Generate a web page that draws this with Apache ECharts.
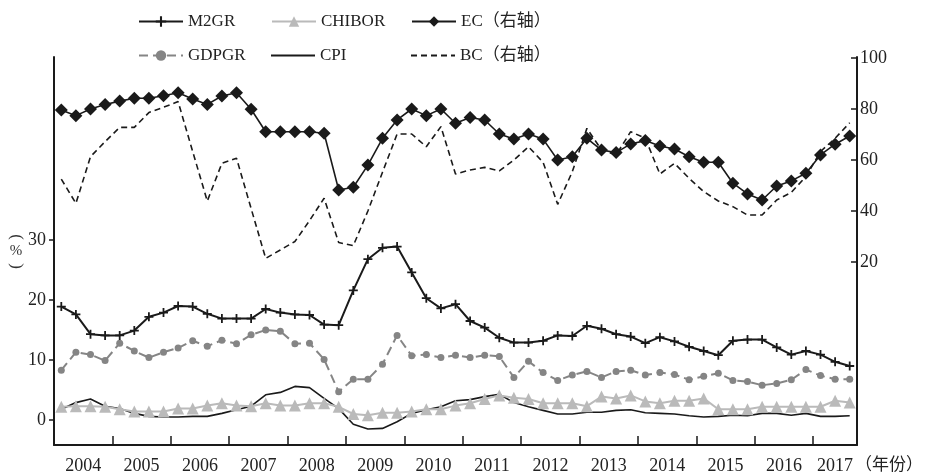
<!DOCTYPE html>
<html>
<head>
<meta charset="utf-8">
<script src="https://cdn.jsdelivr.net/npm/echarts@6/dist/echarts.min.js"></script>
<style>
html, body { margin: 0; padding: 0; background: #fff; }
#main { width: 928px; height: 476px; }
</style>
</head>
<body>
<div id="main"></div>
<script>
// 年份标签（2017 年只有前三个季度）
var yearLabels = ['2004', '2005', '2006', '2007', '2008', '2009', '2010', '2011', '2012', '2013', '2014', '2015', '2016', '2017'];
var quarterCount = 55;
var quarters = [];
for (var q = 0; q < quarterCount; q++) {
  quarters.push(yearLabels[Math.floor(q / 4)] + 'Q' + (q % 4 + 1));
}

// 左轴 (%)
var m2gr = [18.9, 17.6, 14.3, 14.1, 14.1, 14.9, 17.2, 17.9, 19.0, 18.9,
  17.7, 16.9, 16.9, 16.9, 18.5, 17.9, 17.6, 17.5, 15.9, 15.8,
  21.6, 26.8, 28.7, 28.9, 24.6, 20.3, 18.6, 19.3, 16.5, 15.4,
  13.7, 12.9, 12.9, 13.2, 14.1, 14.0, 15.7, 15.2, 14.3, 13.9,
  12.8, 13.8, 13.1, 12.2, 11.5, 10.8, 13.2, 13.4, 13.4, 12.1,
  10.9, 11.5, 10.9, 9.7, 9.0];
var chibor = [2.2, 2.3, 2.3, 2.2, 1.8, 1.4, 1.4, 1.4, 1.9, 1.9,
  2.4, 2.8, 2.4, 2.3, 2.8, 2.4, 2.4, 2.8, 2.8, 2.2,
  1.0, 0.8, 1.2, 1.2, 1.4, 1.8, 1.8, 2.4, 2.8, 3.5,
  4.1, 3.7, 3.5, 2.8, 2.8, 2.8, 2.3, 3.9, 3.6, 4.1,
  3.1, 2.8, 3.2, 3.2, 3.6, 1.8, 1.8, 1.8, 2.2, 2.2,
  2.2, 2.2, 2.2, 3.2, 2.9];
var gdpgr = [8.3, 11.3, 10.9, 9.9, 12.8, 11.5, 10.4, 11.3, 12.0, 13.2,
  12.3, 13.3, 12.7, 14.2, 15.0, 14.8, 12.7, 12.8, 10.1, 4.7,
  6.8, 6.8, 9.3, 14.1, 10.7, 10.9, 10.4, 10.8, 10.4, 10.8,
  10.6, 7.1, 9.8, 7.9, 6.6, 7.5, 8.1, 7.1, 8.1, 8.3,
  7.5, 7.9, 7.6, 6.7, 7.3, 7.8, 6.6, 6.4, 5.8, 6.1,
  6.7, 8.4, 7.4, 6.8, 6.8];
var cpi = [1.8, 2.9, 3.5, 2.3, 1.9, 1.1, 0.6, 0.5, 0.5, 0.6,
  0.6, 1.1, 1.7, 2.3, 4.2, 4.6, 5.6, 5.4, 3.6, 1.9,
  -0.7, -1.5, -1.4, -0.3, 1.1, 1.7, 2.2, 3.2, 3.4, 3.9,
  4.3, 2.9, 2.2, 1.6, 1.0, 1.0, 1.3, 1.3, 1.6, 1.7,
  1.2, 1.1, 1.0, 0.7, 0.5, 0.6, 0.8, 0.7, 1.1, 1.1,
  0.8, 1.1, 0.6, 0.6, 0.7];

// 右轴
var ec = [79.6, 77.4, 80.0, 81.8, 83.1, 84.2, 84.2, 85.2, 86.4, 83.9,
  81.8, 85.1, 86.4, 79.9, 71.1, 71.1, 71.1, 71.1, 70.5, 48.2,
  49.3, 58.0, 68.5, 75.7, 80.0, 77.4, 80.0, 74.4, 76.7, 75.7,
  70.2, 68.2, 70.2, 68.2, 60.0, 61.3, 68.5, 63.9, 62.9, 66.3,
  67.6, 65.5, 64.3, 61.3, 59.1, 59.1, 50.9, 46.7, 44.3, 49.8,
  51.8, 54.8, 62.0, 66.2, 69.4];
var bc = [52.5, 43.0, 61.3, 67.2, 72.8, 72.8, 78.6, 80.7, 82.9, 63.3,
  43.9, 58.7, 60.7, 41.0, 21.4, 24.7, 28.0, 36.2, 45.0, 27.6,
  26.4, 40.0, 55.2, 70.2, 70.2, 65.2, 73.1, 54.5, 56.1, 57.1,
  55.7, 60.0, 65.2, 59.1, 42.6, 55.4, 72.4, 64.0, 62.0, 71.1,
  68.5, 54.5, 58.7, 52.8, 47.6, 43.9, 41.7, 38.4, 38.4, 44.3,
  47.3, 53.5, 63.3, 68.5, 74.6];

var leftTicks = [0, 10, 20, 30];
var rightTicks = [20, 40, 60, 80, 100];

// 年份刻度位置
var yearBounds = [];
var yearCenters = [];
for (var y = 0; y < yearLabels.length; y++) {
  var s = y * 4, e = Math.min(s + 4, quarterCount);
  if (y > 0) yearBounds.push(s);
  yearCenters.push((s + e) / 2);
}

var serif = "'Liberation Serif', 'Noto Sans CJK SC', serif";
var ink = '#1a1a1a';
var plusPath = 'path://M4,0H6V4H10V6H6V10H4V6H0V4H4Z';
// 图例中的纯线条（实线 / 虚线）
var solidIcon = 'path://M0,0H44V2H0Z';
var dashIcon = 'path://M0,0H6V2H0Z M10,0H16V2H10Z M20,0H26V2H20Z M30,0H36V2H30Z M40,0H44V2H40Z';

var chart = echarts.init(document.getElementById('main'));

function oneLegend(name, left, top, icon) {
  var item = { name: name };
  if (icon) item.icon = icon;
  return {
    data: [item], left: left, top: top,
    itemWidth: 44, itemHeight: 13, itemGap: 0,
    textStyle: { fontFamily: serif, fontSize: 17, color: '#222' }
  };
}

var option = {
  animation: false,
  backgroundColor: '#fff',
  legend: [
    oneLegend('M2GR', 133, 8),
    oneLegend('CHIBOR', 266, 8),
    oneLegend('EC（右轴）', 406, 8),
    oneLegend('GDPGR', 133, 42),
    oneLegend('CPI', 266, 42, solidIcon),
    oneLegend('BC（右轴）', 406, 42, dashIcon)
  ],
  grid: { left: 54, right: 71, top: 57, bottom: 31, containLabel: false },
  xAxis: [
    {
      type: 'category',
      data: quarters,
      boundaryGap: true,
      position: 'bottom',
      axisLine: { onZero: false, lineStyle: { color: ink, width: 2 } },
      axisTick: { inside: true, length: 4, interval: 0, lineStyle: { color: ink, width: 1.5 } },
      axisLabel: { show: false },
      splitLine: { show: false }
    },
    {
      type: 'value',
      min: 0, max: quarterCount,
      position: 'bottom',
      axisLine: { show: false, onZero: false },
      axisTick: { show: true, inside: true, length: 9, customValues: yearBounds, lineStyle: { color: ink, width: 1.5 } },
      axisLabel: {
        show: true, customValues: yearCenters, margin: 12,
        fontFamily: serif, fontSize: 18, color: '#222',
        formatter: function (v) { return yearLabels[Math.floor(v / 4)]; }
      },
      splitLine: { show: false }
    }
  ],
  yAxis: [
    {
      type: 'value',
      min: -4.1667, max: 60.5,
      position: 'left',
      axisLine: { show: true, onZero: false, lineStyle: { color: ink, width: 2 } },
      axisTick: { show: true, length: 5, customValues: leftTicks, lineStyle: { color: ink, width: 1.5 } },
      axisLabel: { customValues: leftTicks, margin: 8, fontFamily: serif, fontSize: 18, color: '#222' },
      splitLine: { show: false }
    },
    {
      type: 'value',
      min: -51.8, max: 100.4,
      position: 'right',
      axisLine: { show: true, onZero: false, lineStyle: { color: ink, width: 2 } },
      axisTick: { show: true, inside: true, length: 6, customValues: rightTicks, lineStyle: { color: ink, width: 1.5 } },
      axisLabel: { customValues: rightTicks, margin: 3, fontFamily: serif, fontSize: 18, color: '#222' },
      splitLine: { show: false }
    }
  ],
  graphic: [
    {
      type: 'text', x: 16, y: 237, rotation: -Math.PI / 2,
      style: { text: '(', font: "17px 'Liberation Serif'", fill: '#333', align: 'center', verticalAlign: 'middle' }
    },
    {
      type: 'text', x: 16, y: 251,
      style: { text: '%', font: "15px 'Liberation Serif'", fill: '#333', align: 'center', verticalAlign: 'middle' }
    },
    {
      type: 'text', x: 16, y: 266, rotation: -Math.PI / 2,
      style: { text: ')', font: "17px 'Liberation Serif'", fill: '#333', align: 'center', verticalAlign: 'middle' }
    },
    {
      type: 'text', left: 855, top: 455,
      style: { text: '（年份）', font: "17px 'Noto Sans CJK SC'", fill: '#222' }
    }
  ],
  series: [
    {
      name: 'BC（右轴）', type: 'line', yAxisIndex: 1, data: bc,
      showSymbol: false, symbol: 'none',
      lineStyle: { color: ink, width: 1.6, type: [6, 4] },
      itemStyle: { color: ink }, z: 2
    },
    {
      name: 'EC（右轴）', type: 'line', yAxisIndex: 1, data: ec,
      symbol: 'diamond', symbolSize: 13, showAllSymbol: true,
      lineStyle: { color: ink, width: 1.6 },
      itemStyle: { color: ink }, z: 3
    },
    {
      name: 'CPI', type: 'line', data: cpi,
      showSymbol: false, symbol: 'none',
      lineStyle: { color: ink, width: 1.6 },
      itemStyle: { color: ink }, z: 2
    },
    {
      name: 'CHIBOR', type: 'line', data: chibor,
      symbol: 'triangle', symbolSize: 12, showAllSymbol: true,
      lineStyle: { color: '#bababa', width: 2 },
      itemStyle: { color: '#bababa' }, z: 3
    },
    {
      name: 'GDPGR', type: 'line', data: gdpgr,
      symbol: 'circle', symbolSize: 7, showAllSymbol: true,
      lineStyle: { color: '#858585', width: 2, type: [9, 5] },
      itemStyle: { color: '#858585' }, z: 3
    },
    {
      name: 'M2GR', type: 'line', data: m2gr,
      symbol: plusPath, symbolSize: 9, showAllSymbol: true,
      lineStyle: { color: ink, width: 2 },
      itemStyle: { color: ink }, z: 4
    }
  ]
};

chart.setOption(option);
</script>
</body>
</html>
